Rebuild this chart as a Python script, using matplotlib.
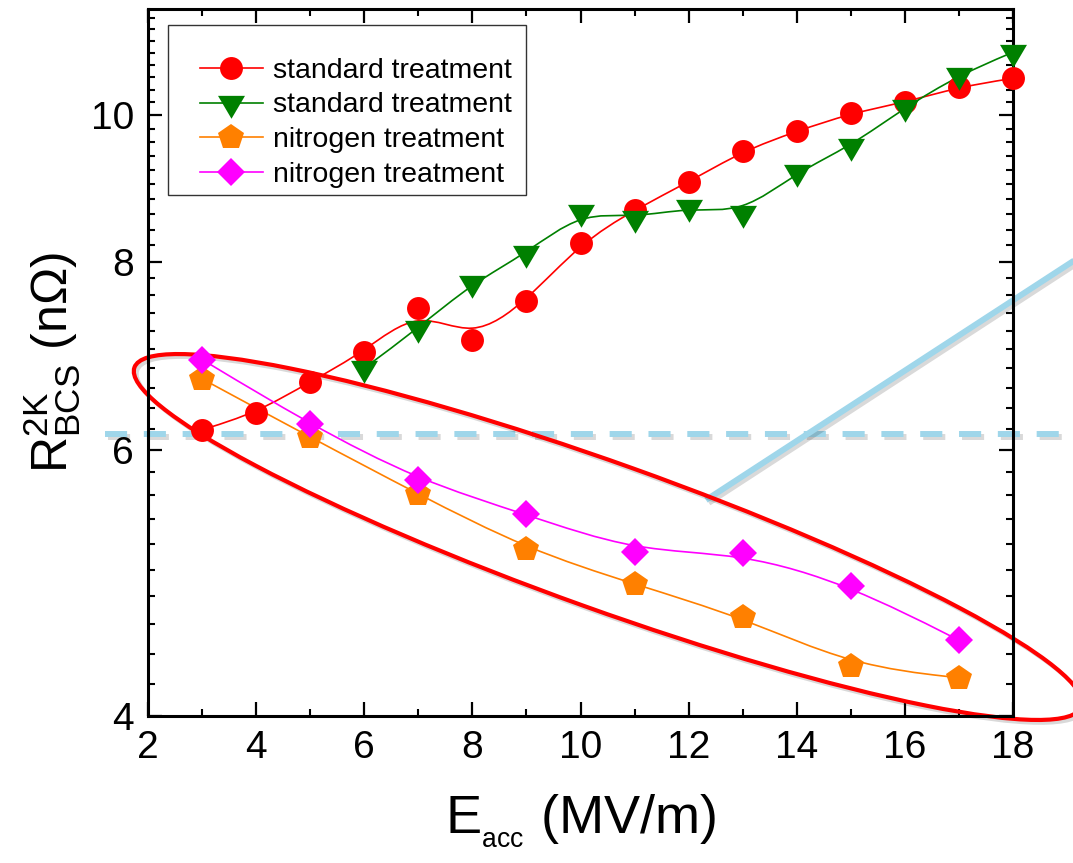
import numpy as np
import matplotlib
matplotlib.use('Agg')
import matplotlib.pyplot as plt
from matplotlib.path import Path
from matplotlib.patches import PathPatch, Ellipse
from matplotlib.lines import Line2D
from matplotlib.legend_handler import HandlerLine2D
import matplotlib.ticker as mticker
import matplotlib.transforms as mtransforms
import matplotlib.patheffects as pe

# ---------------- data ----------------
x_std_a = [3, 4, 5, 6, 7, 8, 9, 10, 11, 12, 13, 14, 15, 16, 17, 18]
r_std_a = [6.19, 6.35, 6.66, 6.97, 7.45, 7.10, 7.53, 8.23, 8.66, 9.03, 9.47, 9.76, 10.03, 10.20, 10.44, 10.58]

x_std_b = [6, 7, 8, 9, 10, 11, 12, 13, 14, 15, 16, 17, 18]
r_std_b = [6.80, 7.23, 7.74, 8.10, 8.63, 8.55, 8.69, 8.61, 9.17, 9.54, 10.12, 10.63, 11.01]

x_nit = [3, 5, 7, 9, 11, 13, 15, 17]
r_nit_a = [6.69, 6.12, 5.61, 5.16, 4.89, 4.65, 4.32, 4.24]
r_nit_b = [6.89, 6.24, 5.73, 5.44, 5.14, 5.13, 4.88, 4.49]

series_labels = ["standard treatment", "standard treatment",
                 "nitrogen treatment", "nitrogen treatment"]
series_colors = ["#ff0000", "#008000", "#ff8000", "#ff00ff"]

x_major = [2, 4, 6, 8, 10, 12, 14, 16, 18]
x_major_labels = ["2", "4", "6", "8", "10", "12", "14", "16", "18"]
y_major = [4, 6, 8, 10]
y_major_labels = ["4", "6", "8", "10"]
x_limits = (2, 18)
y_limits = (4, 11.76)

# ---------------- style ----------------
W, H = 1073, 863
DPI = 100
plt.rcParams['font.family'] = ['Liberation Sans', 'DejaVu Sans']
plt.rcParams['mathtext.fontset'] = 'custom'
plt.rcParams['mathtext.rm'] = 'Liberation Sans'
plt.rcParams['mathtext.it'] = 'Liberation Sans:italic'
plt.rcParams['mathtext.bf'] = 'Liberation Sans:bold'

fig = plt.figure(figsize=(W / DPI, H / DPI), dpi=DPI)
ax = fig.add_axes([148 / W, 1 - 716 / H, (1013 - 148) / W, (716 - 9) / H])
ax.set_yscale('log')
ax.set_xlim(*x_limits)
ax.set_ylim(*y_limits)


def bspline_path(x, y):
    """Uniform cubic B-spline connector (data points as control points,
    clamped at the ends), expressed as Bezier segments in (x, log y)."""
    X = np.asarray(x, float)
    L = np.log(np.asarray(y, float))
    P = np.column_stack([X, L])
    Q = np.vstack([P[0], P[0], P, P[-1], P[-1]])
    verts = []
    codes = []
    for i in range(len(Q) - 3):
        q0, q1, q2, q3 = Q[i], Q[i + 1], Q[i + 2], Q[i + 3]
        b0 = (q0 + 4 * q1 + q2) / 6.0
        b1 = (2 * q1 + q2) / 3.0
        b2 = (q1 + 2 * q2) / 3.0
        b3 = (q1 + 4 * q2 + q3) / 6.0
        if i == 0:
            verts.append(b0)
            codes.append(Path.MOVETO)
        verts += [b1, b2, b3]
        codes += [Path.CURVE4] * 3
    V = np.array(verts)
    V[:, 1] = np.exp(V[:, 1])
    return Path(V, codes)


tri_down = [(-1, 0.567), (1, 0.567), (0, -1.133)]
markers = ['o', tri_down, 'p', 'D']
msizes = [16.5, 22, 19, 14.5]
xs = [x_std_a, x_std_b, x_nit, x_nit]
ys = [r_std_a, r_std_b, r_nit_a, r_nit_b]
lw_data = 1.2

handles = []
for i, (xx, yy) in enumerate(zip(xs, ys)):
    c = series_colors[i]
    ax.add_patch(PathPatch(bspline_path(xx, yy), fill=False, edgecolor=c,
                           lw=lw_data, zorder=3))
    ax.plot(xx, yy, linestyle='none', marker=markers[i], ms=msizes[i],
            color=c, mec=c, mew=0, zorder=4 + i * 0.1, clip_on=False)
    handles.append(Line2D([], [], color=c, lw=lw_data, marker=markers[i],
                          ms=msizes[i], mec=c, mew=0))

# ---------------- annotations (pixel coords) ----------------
pix = mtransforms.Affine2D().scale(1, -1).translate(0, H)
shadow = [pe.SimpleLineShadow(offset=(2, -2), shadow_color='k', alpha=0.15),
          pe.Normal()]
cyan = '#9fd6ea'
ax.add_line(Line2D([105, W + 5], [434, 434], transform=pix, color=cyan,
                   lw=4.3, dashes=(3.7, 2.8), clip_on=False, zorder=2,
                   path_effects=shadow))
ax.add_line(Line2D([706, W + 5], [500, 258], transform=pix, color=cyan,
                   lw=4.3, clip_on=False, zorder=2, path_effects=shadow,
                   solid_capstyle='butt'))
ax.add_patch(Ellipse((608, 537), 1006, 146, angle=19.7, transform=pix,
                     fill=False, edgecolor='#ff0000', lw=3.0, clip_on=False,
                     zorder=2.5, path_effects=shadow))

# ---------------- axes styling ----------------
ax.xaxis.set_major_locator(mticker.FixedLocator(x_major))
ax.xaxis.set_major_formatter(mticker.FixedFormatter(x_major_labels))
ax.xaxis.set_minor_locator(mticker.MultipleLocator(1))
ax.yaxis.set_major_locator(mticker.FixedLocator(y_major))
ax.yaxis.set_major_formatter(mticker.FixedFormatter(y_major_labels))
y_minor = [v for v in np.round(np.arange(4.0, 11.8, 0.2), 1) if v not in y_major]
ax.yaxis.set_minor_locator(mticker.FixedLocator(y_minor))
ax.yaxis.set_minor_formatter(mticker.NullFormatter())

for s in ax.spines.values():
    s.set_linewidth(2.2)
ax.tick_params(which='both', direction='in', top=True, right=True)
ax.tick_params(which='major', length=10, width=1.6, labelsize=28, pad=10)
ax.tick_params(which='minor', length=5, width=1.5)

ax.set_xlabel(r'$\mathregular{E}_{{}_{\mathregular{acc}}}$ (MV/m)', fontsize=39, labelpad=19)
ax.set_ylabel(r'$\mathregular{R^{2K}_{BCS}}$ (n$\mathregular{\Omega}$)', fontsize=36, labelpad=6)

leg_fs = 20.5
leg = ax.legend(handles, series_labels, loc='upper left',
                bbox_to_anchor=(168 / W, 1 - 193 / H, (526 - 168) / W, (193 - 25) / H),
                bbox_transform=fig.transFigure, mode='expand',
                borderaxespad=0, fontsize=leg_fs, handlelength=3.09,
                handletextpad=0.35, labelspacing=0.31, borderpad=0.24,
                fancybox=False, frameon=True, numpoints=1,
                title=' ', title_fontsize=13,
                handler_map={Line2D: HandlerLine2D(xpad=0.88)})
leg.get_frame().set_edgecolor('black')
leg.get_frame().set_linewidth(1.0)
leg.set_zorder(10)

fig.savefig('out.png', dpi=DPI)
